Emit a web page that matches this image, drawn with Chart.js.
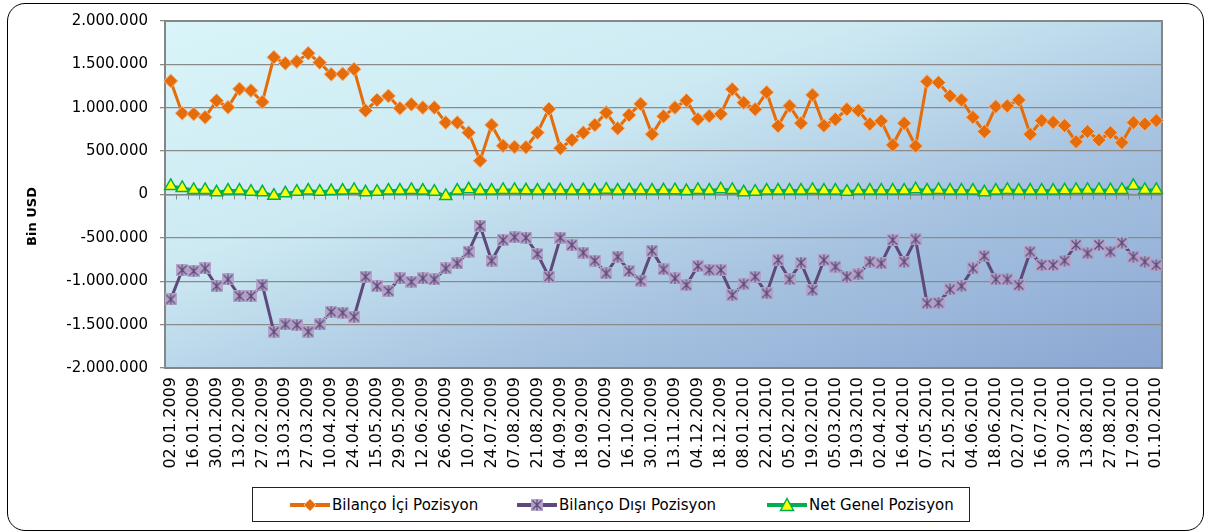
<!DOCTYPE html>
<html>
<head>
<meta charset="utf-8">
<script src="https://cdn.jsdelivr.net/npm/chart.js@4.4.0/dist/chart.umd.min.js"></script>
<style>
  body { margin: 0; background: #fff; }
  #wrap { position: relative; width: 1212px; height: 532px; overflow: hidden; font-family: "DejaVu Sans", sans-serif; }
  #frame { position: absolute; left: 7px; top: 3px; width: 1197px; height: 528px; border: 1px solid #000; border-radius: 18px; box-sizing: border-box; }
  #chartBox { position: absolute; left: 0; top: 0; width: 1212px; height: 532px; }
  #legend { position: absolute; left: 252px; top: 487px; width: 718px; height: 35px; border: 1px solid #222; box-sizing: border-box; background: #fff; }
  .item { position: absolute; top: 0; height: 33px; display: flex; align-items: center; font-size: 15px; color: #000; white-space: nowrap; }
  .item canvas { margin-right: 1px; }
</style>
</head>
<body>
<div id="wrap">
  <div id="frame"></div>
  <div id="chartBox"><canvas id="fxChart" width="1212" height="532"></canvas></div>
  <div id="legend"></div>
</div>
<script>
const dates = [
  '02.01.2009','09.01.2009','16.01.2009','23.01.2009','30.01.2009','06.02.2009','13.02.2009','20.02.2009','27.02.2009','06.03.2009',
  '13.03.2009','20.03.2009','27.03.2009','03.04.2009','10.04.2009','17.04.2009','24.04.2009','08.05.2009','15.05.2009','22.05.2009',
  '29.05.2009','05.06.2009','12.06.2009','19.06.2009','26.06.2009','03.07.2009','10.07.2009','17.07.2009','24.07.2009','31.07.2009',
  '07.08.2009','14.08.2009','21.08.2009','28.08.2009','04.09.2009','11.09.2009','18.09.2009','25.09.2009','02.10.2009','09.10.2009',
  '16.10.2009','23.10.2009','30.10.2009','06.11.2009','13.11.2009','20.11.2009','04.12.2009','11.12.2009','18.12.2009','25.12.2009',
  '08.01.2010','15.01.2010','22.01.2010','29.01.2010','05.02.2010','12.02.2010','19.02.2010','26.02.2010','05.03.2010','12.03.2010',
  '19.03.2010','26.03.2010','02.04.2010','09.04.2010','16.04.2010','30.04.2010','07.05.2010','14.05.2010','21.05.2010','28.05.2010',
  '04.06.2010','11.06.2010','18.06.2010','25.06.2010','02.07.2010','09.07.2010','16.07.2010','23.07.2010','30.07.2010','06.08.2010',
  '13.08.2010','20.08.2010','27.08.2010','03.09.2010','17.09.2010','24.09.2010','01.10.2010'
];

// Bin USD
const bilancoIci = [
  1309000, 936000, 929000, 890000, 1082000, 1005000, 1217000, 1198000, 1067000, 1582000,
  1513000, 1532000, 1628000, 1521000, 1385000, 1390000, 1444000, 967000, 1090000, 1136000,
  994000, 1040000, 1002000, 1002000, 829000, 829000, 713000, 390000, 802000, 563000,
  548000, 544000, 713000, 986000, 533000, 629000, 713000, 802000, 944000, 763000,
  917000, 1044000, 694000, 902000, 1002000, 1085000, 867000, 905000, 929000, 1213000,
  1059000, 982000, 1179000, 790000, 1021000, 821000, 1148000, 794000, 867000, 982000,
  967000, 813000, 848000, 571000, 821000, 559000, 1302000, 1290000, 1136000, 1090000,
  890000, 725000, 1013000, 1021000, 1090000, 694000, 852000, 832000, 794000, 609000,
  725000, 629000, 713000, 598000, 829000, 813000, 852000
];

const bilancoDisi = [
  -1209000, -871000, -882000, -852000, -1056000, -979000, -1171000, -1171000, -1044000, -1582000,
  -1498000, -1505000, -1582000, -1498000, -1352000, -1363000, -1409000, -948000, -1056000, -1113000,
  -967000, -1006000, -967000, -979000, -852000, -794000, -659000, -363000, -763000, -525000,
  -492000, -498000, -686000, -948000, -498000, -582000, -671000, -763000, -909000, -717000,
  -882000, -994000, -648000, -863000, -967000, -1044000, -825000, -871000, -871000, -1159000,
  -1033000, -948000, -1140000, -756000, -979000, -786000, -1102000, -756000, -832000, -948000,
  -921000, -775000, -794000, -525000, -775000, -517000, -1255000, -1248000, -1094000, -1056000,
  -852000, -709000, -979000, -979000, -1044000, -659000, -813000, -813000, -763000, -582000,
  -678000, -582000, -659000, -556000, -717000, -775000, -813000
];

const netGenel = [
  98000, 75000, 52000, 52000, 25000, 45000, 45000, 33000, 25000, -13000,
  13000, 33000, 45000, 33000, 40000, 45000, 52000, 25000, 33000, 45000,
  45000, 52000, 45000, 33000, -17000, 45000, 60000, 45000, 45000, 52000,
  52000, 48000, 45000, 50000, 48000, 45000, 50000, 45000, 55000, 45000,
  48000, 50000, 45000, 48000, 50000, 40000, 52000, 45000, 60000, 52000,
  25000, 33000, 45000, 45000, 45000, 45000, 52000, 45000, 45000, 33000,
  45000, 45000, 45000, 45000, 45000, 60000, 45000, 52000, 45000, 45000,
  45000, 25000, 45000, 52000, 45000, 45000, 45000, 45000, 48000, 52000,
  52000, 52000, 50000, 52000, 100000, 52000, 52000
];

const yTicks = [-2000000, -1500000, -1000000, -500000, 0, 500000, 1000000, 1500000, 2000000];

const seriesNames = ['Bilanço İçi Pozisyon', 'Bilanço Dışı Pozisyon', 'Net Genel Pozisyon'];
const yTitle = 'Bin USD';

function fmt(v) {
  const s = Math.abs(v).toFixed(0).replace(/\B(?=(\d{3})+(?!\d))/g, '.');
  return (v < 0 ? '-' : '') + s;
}

// purple "star" marker: pale square with an asterisk
function makeStar(size) {
  const c = document.createElement('canvas');
  c.width = size; c.height = size;
  const g = c.getContext('2d');
  g.fillStyle = 'rgba(179,162,199,0.95)';
  g.fillRect(0, 0, size, size);
  g.strokeStyle = '#5F497A';
  g.lineWidth = 1.2;
  g.beginPath();
  g.moveTo(1.5, 1.5); g.lineTo(size - 1.5, size - 1.5);
  g.moveTo(size - 1.5, 1.5); g.lineTo(1.5, size - 1.5);
  g.moveTo(size / 2, 0.5); g.lineTo(size / 2, size - 0.5);
  g.stroke();
  return c;
}

const starMarker = makeStar(12);

const plotBg = {
  id: 'plotBg',
  beforeDraw(chart) {
    const { ctx, chartArea: a } = chart;
    const w = a.right - a.left, h = a.bottom - a.top;
    const k = (2 * w * h) / (w * w + h * h);
    const grad = ctx.createLinearGradient(a.left, a.top, a.left + h * k, a.top + w * k);
    grad.addColorStop(0, '#D9F5F9');
    grad.addColorStop(0.35, '#CDEAF3');
    grad.addColorStop(0.65, '#A8C4E1');
    grad.addColorStop(1, '#8AA6D2');
    ctx.save();
    ctx.fillStyle = grad;
    ctx.fillRect(a.left, a.top, w, h);
    ctx.restore();
  },
  beforeDatasetsDraw(chart) {
    const { ctx, chartArea: a, scales } = chart;
    const y0 = scales.y.getPixelForValue(0);
    const step = (a.right - a.left) / dates.length;
    ctx.save();
    ctx.strokeStyle = '#868686';
    ctx.lineWidth = 1;
    ctx.beginPath();
    ctx.moveTo(a.left, y0 + 0.5);
    ctx.lineTo(a.right, y0 + 0.5);
    for (let i = 0; i <= dates.length; i++) {
      const x = Math.round(a.left + i * step) + 0.5;
      ctx.moveTo(x, y0);
      ctx.lineTo(x, y0 + 5);
    }
    ctx.stroke();
    ctx.lineWidth = 2;
    ctx.strokeRect(a.left, a.top, a.right - a.left, a.bottom - a.top);
    ctx.restore();
  },
  afterDraw(chart) {
    // axis title sits a bit below the middle, as in the excel original
    const { ctx, chartArea: a } = chart;
    ctx.save();
    ctx.translate(33, (a.top + a.bottom) / 2 + 22);
    ctx.rotate(-Math.PI / 2);
    ctx.font = 'bold 13px "DejaVu Sans"';
    ctx.fillStyle = '#000';
    ctx.textAlign = 'center';
    ctx.textBaseline = 'middle';
    ctx.fillText(yTitle, 0, 0);
    ctx.restore();
  }
};

const ctx = document.getElementById('fxChart').getContext('2d');

new Chart(ctx, {
  type: 'line',
  data: {
    labels: dates,
    datasets: [
      {
        label: seriesNames[0],
        data: bilancoIci,
        borderColor: '#E46C0A',
        borderWidth: 3,
        pointStyle: 'rectRot',
        pointRadius: 7,
        pointBackgroundColor: '#E46C0A',
        pointBorderColor: '#F8B98A',
        pointBorderWidth: 1,
        tension: 0
      },
      {
        label: seriesNames[1],
        data: bilancoDisi,
        borderColor: '#5F497A',
        borderWidth: 3,
        pointStyle: starMarker,
        pointRadius: 6,
        tension: 0
      },
      {
        label: seriesNames[2],
        data: netGenel,
        borderColor: '#00B050',
        borderWidth: 3,
        pointStyle: 'triangle',
        pointRadius: 7,
        pointBackgroundColor: '#FFFF00',
        pointBorderColor: '#00B050',
        pointBorderWidth: 1.5,
        tension: 0
      }
    ]
  },
  options: {
    responsive: false,
    animation: false,
    layout: { padding: { left: 0, right: 50, top: 21, bottom: 58 } },
    plugins: {
      legend: { display: false },
      tooltip: { enabled: false }
    },
    scales: {
      x: {
        offset: true,
        grid: { display: false, drawTicks: false },
        border: { display: false },
        ticks: {
          autoSkip: false,
          maxRotation: 90,
          minRotation: 90,
          padding: 9,
          color: '#000',
          font: { family: 'DejaVu Sans', size: 16 },
          callback: function(value, index) {
            return index % 2 === 0 ? dates[index] : '';
          }
        },
        afterFit: function(scale) { scale.height = 106; }
      },
      y: {
        min: yTicks[0],
        max: yTicks[yTicks.length - 1],
        afterBuildTicks: function(scale) {
          scale.ticks = yTicks.map(v => ({ value: v }));
        },
        grid: { color: '#8A8A8A', lineWidth: 1.3, tickLength: 5, drawTicks: true },
        border: { display: false },
        ticks: {
          padding: 12,
          color: '#000',
          font: { family: 'DejaVu Sans', size: 15 },
          callback: function(value) { return fmt(value); }
        },
        afterFit: function(scale) { scale.width = 165; }
      }
    }
  },
  plugins: [plotBg]
});

// legend drawn as html, each key a line with its marker
function legendKey(kind) {
  const c = document.createElement('canvas');
  c.width = 42; c.height = 16;
  const g = c.getContext('2d');
  const cols = { ici: '#E46C0A', disi: '#5F497A', net: '#00B050' };
  g.strokeStyle = cols[kind];
  g.lineWidth = 4;
  g.beginPath(); g.moveTo(1, 8); g.lineTo(41, 8); g.stroke();
  if (kind === 'ici') {
    g.fillStyle = '#E46C0A'; g.strokeStyle = '#F8B98A'; g.lineWidth = 1;
    g.beginPath(); g.moveTo(21, 2); g.lineTo(27, 8); g.lineTo(21, 14); g.lineTo(15, 8); g.closePath();
    g.fill(); g.stroke();
  } else if (kind === 'disi') {
    g.drawImage(makeStar(12), 15, 2);
  } else {
    g.fillStyle = '#FFFF00'; g.strokeStyle = '#00B050'; g.lineWidth = 1.5;
    g.beginPath(); g.moveTo(21, 1.5); g.lineTo(27.5, 13.5); g.lineTo(14.5, 13.5); g.closePath();
    g.fill(); g.stroke();
  }
  return c;
}

const legendEl = document.getElementById('legend');
const legendKinds = ['ici', 'disi', 'net'];
const legendLeft = [36, 263, 513];
legendKinds.forEach((k, i) => {
  const item = document.createElement('div');
  item.className = 'item';
  item.style.left = legendLeft[i] + 'px';
  item.appendChild(legendKey(k));
  const span = document.createElement('span');
  span.textContent = seriesNames[i];
  item.appendChild(span);
  legendEl.appendChild(item);
});
</script>
</body>
</html>
